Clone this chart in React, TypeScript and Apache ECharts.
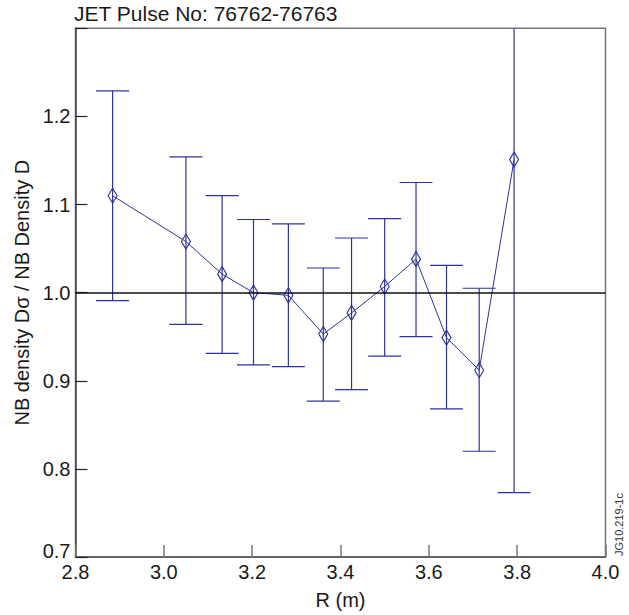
import React, { useEffect, useRef } from "react";
import * as echarts from "echarts";

const titleText = "JET Pulse No: 76762-76763";
const xName = "R (m)";
const yName = "NB density Dσ / NB Density D";
const watermark = "JG10.219-1c";

const radius = [2.884, 3.05, 3.132, 3.203, 3.282, 3.361, 3.425, 3.5, 3.571, 3.64, 3.714, 3.793];
const ratio = [1.11, 1.058, 1.021, 1.0, 0.997, 0.953, 0.977, 1.007, 1.038, 0.949, 0.912, 1.151];
const upper = [1.229, 1.154, 1.11, 1.083, 1.078, 1.028, 1.062, 1.084, 1.125, 1.031, 1.005, 1.53];
const lower = [0.991, 0.964, 0.931, 0.918, 0.916, 0.877, 0.89, 0.928, 0.95, 0.868, 0.82, 0.773];

const X_MIN = 2.8;
const X_MAX = 4.0;
const Y_MIN = 0.7;
const Y_MAX = 1.3;

const BLUE = "#2e329f";
const FONT = "'Liberation Sans', Arial, Helvetica, sans-serif";

export default function App() {
  const ref = useRef<HTMLDivElement>(null);
  useEffect(() => {
    if (!ref.current) return;
    const chart = echarts.init(ref.current, null, { renderer: "svg" });
    const pts = radius.map((r, i) => [r, ratio[i]]);
    const bars = radius.map((r, i) => [r, lower[i], upper[i]]);
    chart.setOption({
      animation: false,
      backgroundColor: "#ffffff",
      textStyle: { fontFamily: FONT },
      grid: {
        left: 75.5,
        right: 23.5,
        top: 28.3,
        bottom: 56.2,
        show: true,
        borderColor: "#777",
        borderWidth: 1.5,
        containLabel: false,
      },
      graphic: [
        {
          type: "text",
          left: 74,
          top: 3,
          style: { text: titleText, font: `21px ${FONT}`, fill: "#1a1a1a" },
        },
        {
          type: "text",
          x: 70.5,
          y: 551,
          style: {
            text: Y_MIN.toFixed(1),
            font: `20px ${FONT}`,
            fill: "#1a1a1a",
            align: "right",
            verticalAlign: "middle",
          },
        },
        {
          type: "text",
          x: 619,
          y: 556,
          rotation: Math.PI / 2,
          style: {
            text: watermark,
            font: `11px ${FONT}`,
            fill: "#333",
            align: "left",
            verticalAlign: "middle",
          },
        },
      ],
      xAxis: {
        type: "value",
        min: X_MIN,
        max: X_MAX,
        interval: 0.2,
        name: xName,
        nameLocation: "middle",
        nameGap: 33,
        nameTextStyle: { fontSize: 20, color: "#1a1a1a", fontFamily: FONT },
        axisLine: { show: true, onZero: false, lineStyle: { color: "#555", width: 1.5 } },
        axisTick: { show: true, inside: true, length: 12, lineStyle: { color: "#777", width: 1.5 } },
        axisLabel: {
          fontSize: 20,
          color: "#1a1a1a",
          fontFamily: FONT,
          margin: 5,
          formatter: (v: number) => v.toFixed(1),
        },
        splitLine: { show: false },
      },
      yAxis: {
        type: "value",
        min: Y_MIN,
        max: Y_MAX,
        interval: 0.1,
        name: yName,
        nameLocation: "middle",
        nameGap: 43,
        nameTextStyle: { fontSize: 20, color: "#1a1a1a", fontFamily: FONT },
        axisLine: { show: true, onZero: false, lineStyle: { color: "#444", width: 1.5 } },
        axisTick: { show: true, inside: true, length: 12, lineStyle: { color: "#222", width: 1.2 } },
        axisLabel: {
          fontSize: 20,
          color: "#1a1a1a",
          fontFamily: FONT,
          margin: 5,
          formatter: (v: number) =>
            Math.abs(v - Y_MAX) < 1e-6 || Math.abs(v - Y_MIN) < 1e-6 ? "" : v.toFixed(1),
        },
        splitLine: { show: false },
      },
      series: [
        {
          type: "custom",
          clip: true,
          silent: true,
          z: 2,
          data: bars,
          renderItem: (params: any, api: any) => {
            const x = api.value(0);
            const lo = api.value(1);
            const hi = api.value(2);
            const hiC = Math.min(hi, Y_MAX);
            const pLo = api.coord([x, lo]);
            const pHi = api.coord([x, hiC]);
            const half = 16.5;
            const style = { stroke: BLUE, lineWidth: 1.2 };
            const children: any[] = [
              { type: "line", shape: { x1: pLo[0], y1: pLo[1], x2: pHi[0], y2: pHi[1] }, style },
              { type: "line", shape: { x1: pLo[0] - half, y1: pLo[1], x2: pLo[0] + half, y2: pLo[1] }, style },
            ];
            if (hi <= Y_MAX) {
              children.push({
                type: "line",
                shape: { x1: pHi[0] - half, y1: pHi[1], x2: pHi[0] + half, y2: pHi[1] },
                style,
              });
            }
            return { type: "group", children };
          },
        },
        {
          type: "line",
          data: pts,
          z: 3,
          symbol: "diamond",
          symbolSize: [9, 15],
          showSymbol: true,
          lineStyle: { color: BLUE, width: 1 },
          itemStyle: { color: "rgba(255,255,255,0)", borderColor: BLUE, borderWidth: 1.2 },
          markLine: {
            silent: true,
            symbol: "none",
            label: { show: false },
            lineStyle: { color: "#111", width: 1.6, type: "solid" },
            data: [{ yAxis: 1.0 }],
          },
        },
      ],
    });
    return () => chart.dispose();
  }, []);
  return <div ref={ref} style={{ width: 629, height: 615, position: "absolute", left: 0, top: 0 }} />;
}
